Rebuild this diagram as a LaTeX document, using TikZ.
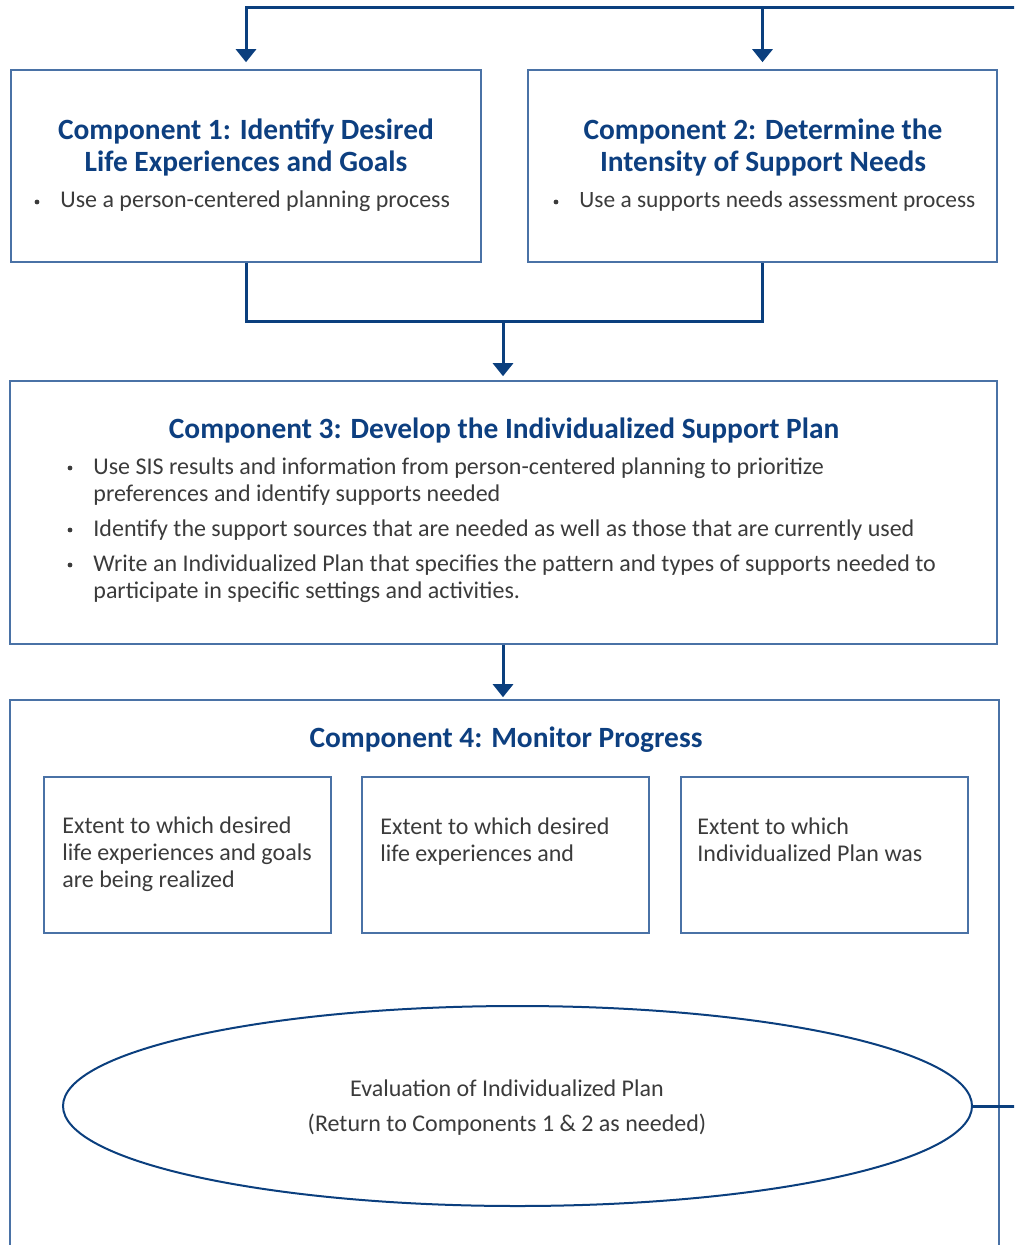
\documentclass[tikz,border=0pt]{standalone}
\usepackage{fontspec}
\setmainfont{Carlito}
\usetikzlibrary{arrows.meta,shapes.geometric,fit}
\definecolor{headblue}{HTML}{0D3F80}
\definecolor{frameblue}{HTML}{4A72A6}
\definecolor{linkblue}{HTML}{0B3F7E}
\definecolor{bodygray}{HTML}{3B3B3B}
\tikzset{
  frame/.style={draw=frameblue, line width=0.8pt, inner sep=0pt},
  link/.style={draw=linkblue, line width=1.5pt},
  arrowlink/.style={link, -{Triangle[length=6.5pt,width=10pt]}},
  heading/.style={text=headblue, font=\fontsize{14.7}{16}\selectfont\bfseries, inner sep=0pt, align=center, anchor=base},
  body/.style={text=bodygray, font=\fontsize{12}{13.5}\selectfont, inner sep=0pt, align=left, anchor=base west},
  dot/.style={fill=bodygray, circle, inner sep=0pt, minimum size=2.4pt}
}
\begin{document}
\begin{tikzpicture}[x=0.5pt,y=-0.5pt]
\useasboundingbox (0,0) rectangle (1014,1245);
\clip (0,0) rectangle (1014,1245);

% component boxes
\node[frame, fit={(11,70) (481,262)}] (c1) {};
\node[frame, fit={(528,70) (997,262)}] (c2) {};
\node[frame, fit={(10,381) (997,644)}] (c3) {};
\node[frame, fit={(10,700) (999,1270)}] (c4) {};
\node[frame, fit={(44,777) (331,933)}] (m1) {};
\node[frame, fit={(362,777) (649,933)}] (m2) {};
\node[frame, fit={(681,777) (968,933)}] (m3) {};
\node[draw=linkblue, line width=1pt, ellipse, minimum width=454.5pt, minimum height=100pt, inner sep=0pt] (ev) at (517.5,1106) {};

% texts of component 1
\node[heading] (t1a) at (246,140) {Component 1: Identify Desired};
\node[heading] (t1b) at (246,172) {Life Experiences and Goals};
\node[dot] (b1) at (37,202) {};
\node[body] (s1) at (60,208) {Use a person-centered planning process};

% texts of component 2
\node[heading] (t2a) at (763,140) {Component 2: Determine the};
\node[heading] (t2b) at (763,172) {Intensity of Support Needs};
\node[dot] (b2) at (556,202) {};
\node[body, font=\fontsize{11.7}{13.5}\selectfont] (s2) at (579,208) {Use a supports needs assessment process};

% texts of component 3 (multi-line nodes sit on their last baseline)
\node[heading] (t3) at (504,438) {Component 3: Develop the Individualized Support Plan};
\node[dot] (b3a) at (70,468) {};
\node[body] (s3a) at (93,501) {Use SIS results and information from person-centered planning to prioritize\\preferences and identify supports needed};
\node[dot] (b3b) at (70,530) {};
\node[body] (s3b) at (93,536) {Identify the support sources that are needed as well as those that are currently used};
\node[dot] (b3c) at (70,565) {};
\node[body] (s3c) at (93,598) {Write an Individualized Plan that specifies the pattern and types of supports needed to\\participate in specific settings and activities.};

% texts of component 4
\node[heading] (t4) at (506,747) {Component 4: Monitor Progress};
\node[body] (x1) at (62,887) {Extent to which desired\\life experiences and goals\\are being realized};
\node[body] (x2) at (380,861) {Extent to which desired\\life experiences and};
\node[body] (x3) at (697,861) {Extent to which\\Individualized Plan was};
\node[text=bodygray, font=\fontsize{12}{17.5}\selectfont, inner sep=0pt, align=center, anchor=base] (evt) at (507,1131) {Evaluation of Individualized Plan\\(Return to Components 1 \& 2 as needed)};

% connectors
\coordinate (topR) at (1030,8);
\coordinate (backR) at (1030,1106);
\coordinate (join) at (503,322);
\draw[arrowlink, shorten >=3.5pt] (topR) -| (c1.north);
\draw[arrowlink, shorten >=3.5pt] (c2.north |- topR) -- (c2.north);
\draw[link] (c1.south) |- (join) -| (c2.south);
\draw[arrowlink, shorten >=2pt] (join) -- (join |- c3.north);
\draw[arrowlink, shorten >=1pt] (join |- c3.south) -- (join |- c4.north);
\draw[link] (ev.east) -- (backR);
\end{tikzpicture}
\end{document}
